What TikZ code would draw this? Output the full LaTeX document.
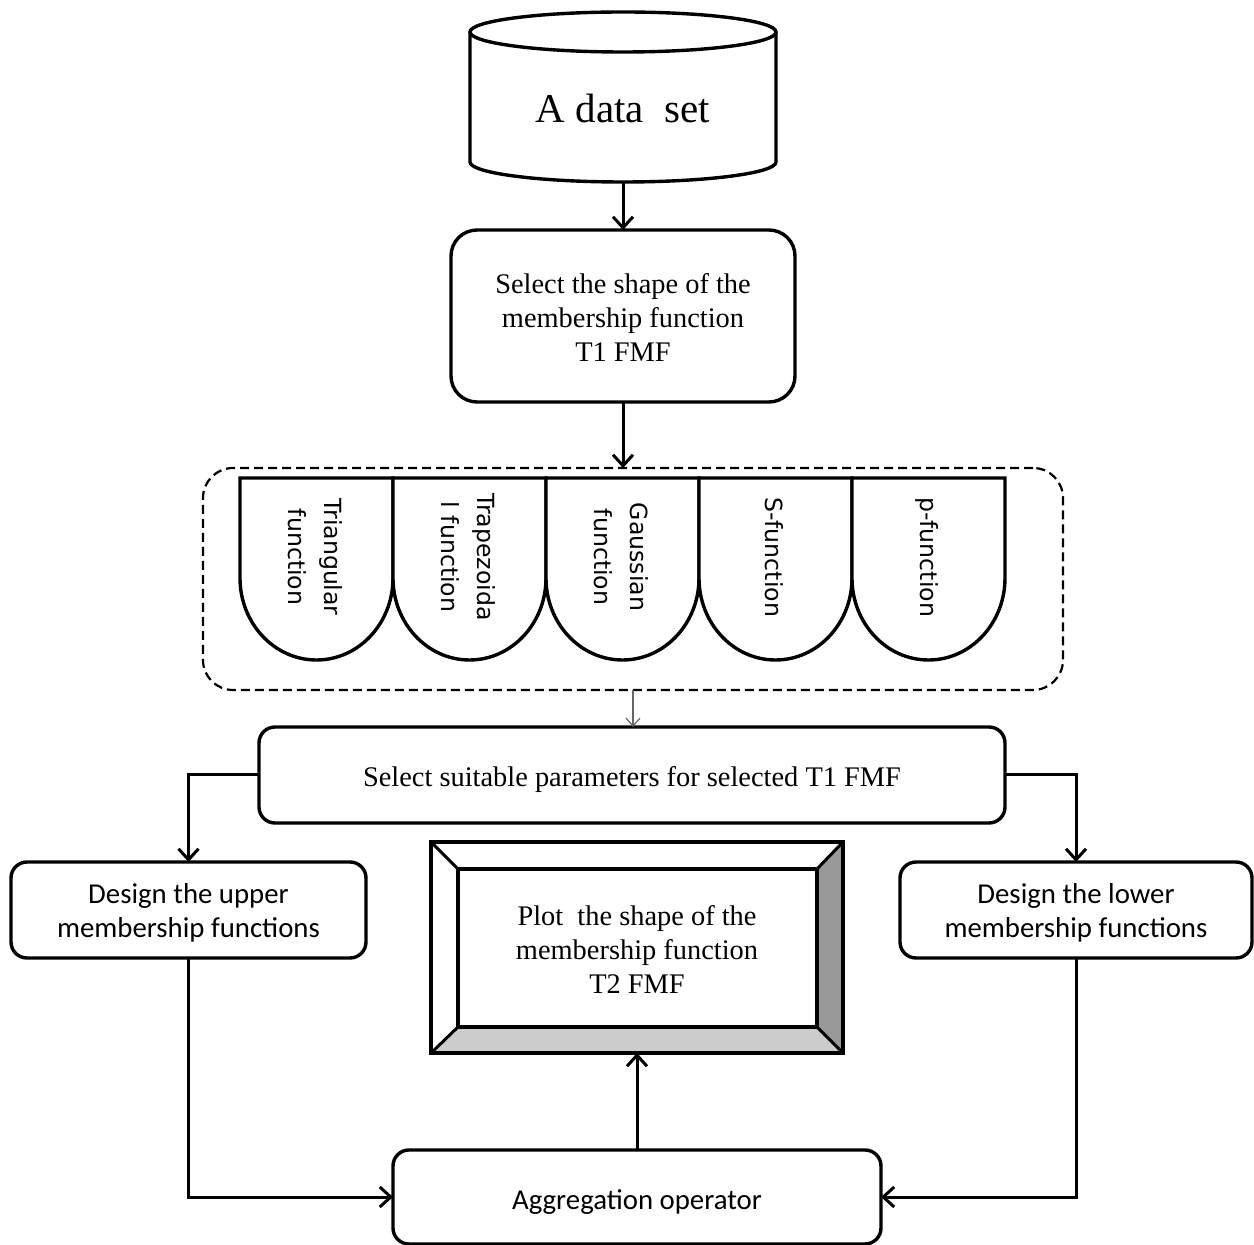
\documentclass[tikz,border=0pt]{standalone}
\usepackage{fontspec}
\setmainfont{Liberation Serif}
\newfontfamily\calib{Carlito}
\newfontfamily\dvs{DejaVu Sans}
\usetikzlibrary{arrows.meta,calc}
\definecolor{bevdark}{HTML}{999999}
\definecolor{bevlight}{HTML}{CCCCCC}
\newcommand{\dn}[2]{\raisebox{-#1}[\height][\depth]{#2}}
\begin{document}
\begin{tikzpicture}[x=0.5pt,y=-0.5pt,
  line width=1.5pt,
  box/.style={draw, line width=1.7pt, rounded corners=8pt, inner sep=0pt, outer sep=0pt, align=center},
  serif/.style={font=\fontsize{14.2}{17}\selectfont},
  sans/.style={font=\calib\fontsize{14.4}{17}\selectfont},
  rot/.style={font=\dvs\fontsize{11.8}{18}\selectfont, rotate=-90, align=center, inner sep=0pt},
  arr/.style={-{Straight Barb[length=5.5pt,width=10pt,line width=1.5pt]}},
  thinarr/.style={line width=0.6pt, draw=black!60, -{Straight Barb[length=4pt,width=7pt,line width=0.6pt]}},
  lobe/.style={draw, line width=1.7pt, fill=white}
]
\useasboundingbox (0,0) rectangle (1254,1245);

% cylinder
\node[inner sep=0pt, outer sep=0pt, minimum width=153pt, minimum height=85pt,
      font=\fontsize{20.5}{24}\selectfont] (data) at (623,97) {\dn{5.5pt}{A data \ set}};
\draw[line width=1.7pt] (470,32) -- (470,162) arc[start angle=180, end angle=0, x radius=153, y radius=20] -- (776,32);
\draw[line width=1.7pt] (623,32) ellipse [x radius=153, y radius=20];

% box 1
\node[box, serif, rounded corners=13pt, minimum width=172pt, minimum height=86pt] (shape) at (623,316)
  {\dn{1pt}{\parbox{170pt}{\centering Select the shape of the\\membership function\\T1 FMF}}};

% dashed group
\node[draw, dashed, dash pattern=on 4.5pt off 2.5pt, line width=1.1pt, rounded corners=15pt,
      minimum width=430pt, minimum height=111pt, inner sep=0pt, outer sep=0pt] (group) at (633,579) {};

% lobes
\foreach \L in {240,393,546,699,852}{
  \draw[lobe] (\L,478) -- (\L,578) arc[start angle=180, end angle=0, x radius=76.5, y radius=82] -- (\L+153,478) -- cycle;
}
\node[rot] (f1) at (315,557) {Triangular\\function};
\node[rot] (f2) at (468,557) {Trapezoida\\l function};
\node[rot] (f3) at (621,557) {Gaussian\\function};
\node[rot] (f4) at (774,557) {S-function};
\node[rot] (f5) at (927,557) {p-function};

% box 2
\node[box, serif, minimum width=373pt, minimum height=48pt] (box2) at (632,775)
  {\dn{2.5pt}{Select suitable parameters for selected T1 FMF}};

% upper / lower
\node[box, sans, minimum width=177.5pt, minimum height=48pt] (upper) at (188.5,910)
  {\dn{1.3pt}{\parbox{175pt}{\centering Design the upper\\membership functions}}};
\node[box, sans, minimum width=176pt, minimum height=48pt] (lower) at (1076,910)
  {\dn{1.3pt}{\parbox{175pt}{\centering Design the lower\\membership functions}}};

% bevel box
\node[inner sep=0pt, outer sep=0pt, minimum width=206pt, minimum height=105.5pt, serif, align=center] (plot) at (637,947.5)
  {\dn{1.2pt}{\parbox{170pt}{\centering Plot\ \ the shape of the\\membership function\\T2 FMF}}};
\coordinate (inw) at ($(plot.north west)+(27,27)$);
\coordinate (ine) at ($(plot.north east)+(-26,27)$);
\coordinate (isw) at ($(plot.south west)+(27,-26)$);
\coordinate (ise) at ($(plot.south east)+(-26,-26)$);
\fill[bevdark] (plot.north east) -- (plot.south east) -- (ise) -- (ine) -- cycle;
\fill[bevlight] (plot.south west) -- (plot.south east) -- (ise) -- (isw) -- cycle;
\draw[line width=1.7pt] (plot.north west) rectangle (plot.south east);
\draw[line width=1.7pt] (inw) rectangle (ise);
\draw[line width=1.5pt] (plot.north west) -- (inw) (plot.north east) -- (ine)
  (plot.south west) -- (isw) (plot.south east) -- (ise);

% aggregation
\node[box, sans, minimum width=244pt, minimum height=47pt] (agg) at (637,1197)
  {\dn{2.5pt}{Aggregation operator}};

% connectors
\draw[arr] (data.south) -- (shape.north);
\draw[arr] (shape.south) -- (shape.south |- group.north);
\draw[thinarr] (group.south) -- (group.south |- box2.north);
\draw[arr] (box2.west) -| (upper.north);
\draw[arr] (box2.east) -| (lower.north);
\draw[arr] (upper.south) |- (agg.west);
\draw[arr] (lower.south) |- (agg.east);
\draw[arr] (agg.north) -- (plot.south);
\end{tikzpicture}
\end{document}
